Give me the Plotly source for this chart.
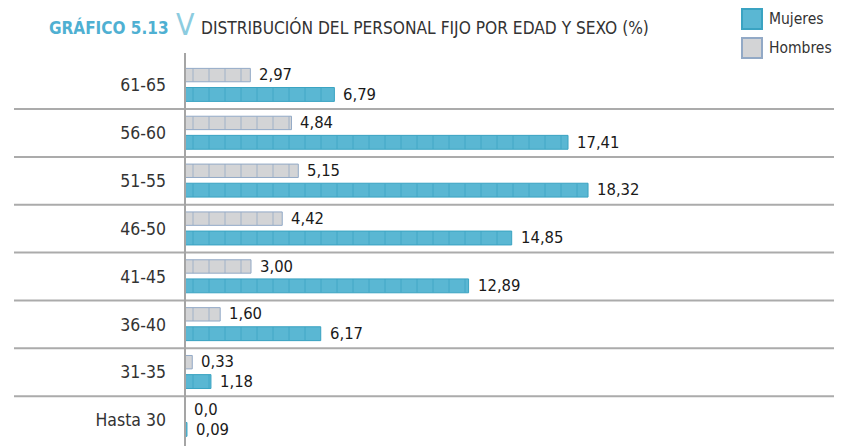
import plotly.graph_objects as go

categories = ["61-65", "56-60", "51-55", "46-50", "41-45", "36-40", "31-35", "Hasta 30"]
mujeres = [6.79, 17.41, 18.32, 14.85, 12.89, 6.17, 1.18, 0.09]
hombres = [2.97, 4.84, 5.15, 4.42, 3.00, 1.60, 0.33, 0.0]
mujeres_labels = ["6,79", "17,41", "18,32", "14,85", "12,89", "6,17", "1,18", "0,09"]
hombres_labels = ["2,97", "4,84", "5,15", "4,42", "3,00", "1,60", "0,33", "0,0"]

# page body has an 8px margin -> figure occupies 834x438 of the 842x446 window
OFF = 8
W, H = 842 - OFF, 446 - OFF
FONT = "DejaVu Sans Condensed, Liberation Sans Narrow, sans-serif"
BLUE, BLUE_D = "#5ab7d3", "#3aa3c2"
GRAY, GRAY_D = "#d3d4d6", "#92a9c6"


def px(x):
    return (x - OFF) / W


def py(y):
    return 1 - (y - OFF) / H


idx = list(range(len(categories)))

fig = go.Figure()
fig.add_trace(go.Bar(
    y=idx, x=hombres, orientation="h", name="Hombres",
    offset=-0.35, width=0.28,
    marker=dict(color=GRAY, line=dict(color=GRAY_D, width=1),
                pattern=dict(shape="|", size=16, solidity=0.1, fgcolor=GRAY_D, bgcolor=GRAY)),
    hoverinfo="skip", showlegend=False,
))
fig.add_trace(go.Bar(
    y=idx, x=mujeres, orientation="h", name="Mujeres",
    offset=0.05, width=0.29,
    marker=dict(color=BLUE, line=dict(color=BLUE_D, width=1),
                pattern=dict(shape="|", size=16, solidity=0.1, fgcolor=BLUE_D, bgcolor=BLUE)),
    hoverinfo="skip", showlegend=False,
))

VAL_FONT = dict(family=FONT, size=16.5, color="#1a1a1a")
annotations = []
for i, (v, t) in enumerate(zip(hombres, hombres_labels)):
    annotations.append(dict(x=v, y=i - 0.22, xref="x", yref="y", text=t, showarrow=False,
                            xanchor="left", yanchor="middle", xshift=7, font=VAL_FONT))
for i, (v, t) in enumerate(zip(mujeres, mujeres_labels)):
    annotations.append(dict(x=v, y=i + 0.19, xref="x", yref="y", text=t, showarrow=False,
                            xanchor="left", yanchor="middle", xshift=7, font=VAL_FONT))

# title
annotations.append(dict(x=px(47), y=py(27), xref="paper", yref="paper", text="<b>GRÁFICO 5.13</b>",
                        showarrow=False, xanchor="left", yanchor="middle",
                        font=dict(family=FONT, size=17, color="#4fb0d2")))
annotations.append(dict(x=px(174), y=py(25), xref="paper", yref="paper", text="V",
                        showarrow=False, xanchor="left", yanchor="middle",
                        font=dict(family=FONT, size=30, color="#8ccce0")))
annotations.append(dict(x=px(199), y=py(27), xref="paper", yref="paper",
                        text="DISTRIBUCIÓN DEL PERSONAL FIJO POR EDAD Y SEXO (%)",
                        showarrow=False, xanchor="left", yanchor="middle",
                        font=dict(family=FONT, size=17.2, color="#333")))
# legend texts
annotations.append(dict(x=px(767), y=py(19), xref="paper", yref="paper", text="Mujeres",
                        showarrow=False, xanchor="left", yanchor="middle",
                        font=dict(family=FONT, size=15.5, color="#333")))
annotations.append(dict(x=px(767), y=py(48), xref="paper", yref="paper", text="Hombres",
                        showarrow=False, xanchor="left", yanchor="middle",
                        font=dict(family=FONT, size=15.5, color="#333")))

shapes = []
# row separators
for k in range(len(categories) - 1):
    shapes.append(dict(type="line", xref="paper", yref="y", x0=px(14), x1=1,
                       y0=k + 0.5, y1=k + 0.5, line=dict(color="#ababab", width=2)))
# vertical axis line
shapes.append(dict(type="line", xref="paper", yref="paper", x0=px(185), x1=px(185),
                   y0=0, y1=py(53), line=dict(color="#a5a5a5", width=2)))
# legend swatches
shapes.append(dict(type="rect", xref="paper", yref="paper", x0=px(742), x1=px(762),
                   y0=py(29), y1=py(9), fillcolor=BLUE, line=dict(color=BLUE_D, width=2)))
shapes.append(dict(type="rect", xref="paper", yref="paper", x0=px(742), x1=px(762),
                   y0=py(58), y1=py(38), fillcolor=GRAY, line=dict(color=GRAY_D, width=2)))

fig.update_layout(
    width=W, height=H,
    margin=dict(l=0, r=0, t=0, b=0),
    paper_bgcolor="white", plot_bgcolor="white",
    barmode="overlay",
    xaxis=dict(domain=[px(185), 1], range=[0, 657 / 22], visible=False, fixedrange=True),
    yaxis=dict(domain=[py(444), py(61.2)], range=[7.5, -0.5],
               tickmode="array", tickvals=idx, ticktext=categories,
               showgrid=False, zeroline=False, showline=False, ticks="",
               ticklabelstandoff=18,
               tickfont=dict(family=FONT, size=17.5, color="#333"), fixedrange=True),
    annotations=annotations,
    shapes=shapes,
    showlegend=False,
)

fig.write_html("out.html")
